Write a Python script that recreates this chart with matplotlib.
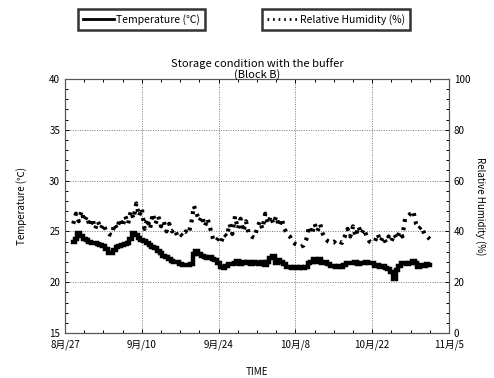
import numpy as np
import matplotlib
matplotlib.use("Agg")
import matplotlib.pyplot as plt
from matplotlib.lines import Line2D

plt.rcParams['font.family'] = ['Noto Sans CJK JP', 'DejaVu Sans']

# ---- data (days since 8/27, sampled every half day from day 1.5) ----
start_day = 1.5
step_day = 0.5
temperature = [
    24.0, 24.3, 24.8, 24.5, 24.3, 24.2, 24.0, 23.9, 23.9, 23.8,
    23.7, 23.6, 23.3, 22.9, 22.9, 23.2, 23.5, 23.6, 23.7, 23.8,
    23.9, 24.3, 24.8, 24.6, 24.4, 24.2, 24.1, 23.9, 23.7, 23.5,
    23.4, 23.1, 22.9, 22.6, 22.5, 22.3, 22.1, 22.0, 22.0, 21.8,
    21.7, 21.7, 21.7, 21.8, 22.8, 23.1, 22.8, 22.6, 22.5, 22.4,
    22.5, 22.3, 22.2, 21.9, 21.5, 21.4, 21.6, 21.8, 21.8, 21.9,
    22.1, 21.8, 22.0, 21.9, 22.0, 21.8, 22.0, 21.9, 21.8, 22.0,
    21.7, 22.0, 22.4, 22.6, 21.9, 22.2, 22.0, 21.8, 21.5, 21.5,
    21.4, 21.5, 21.4, 21.5, 21.4, 21.5, 21.9, 22.0, 22.3, 22.0,
    22.3, 21.9, 22.0, 21.8, 21.6, 21.6, 21.5, 21.6, 21.5, 21.7,
    21.9, 21.9, 21.9, 22.0, 21.8, 21.9, 21.9, 22.0, 21.9, 21.9,
    21.6, 21.7, 21.5, 21.6, 21.4, 21.3, 21.0, 20.3, 21.2, 21.6,
    21.9, 21.9, 21.8, 21.9, 22.1, 21.9, 21.5, 21.7, 21.6, 21.8,
    21.7,
]
humidity = [
    43, 47, 44, 48, 44, 46, 42, 45, 41, 44,
    41, 43, 40, 39, 38.5, 43, 41, 45, 42, 46,
    43, 48, 45, 51, 46, 49, 41, 45, 41, 47,
    43, 46, 42, 44, 40, 43, 40, 41, 38, 39,
    38, 40, 39, 43, 50, 47, 44, 46, 42, 45,
    41, 37, 36, 37.5, 36, 39, 38, 43, 39, 46,
    41, 45, 40, 44, 39, 38, 37.5, 41, 44, 41,
    47, 43, 46, 43, 46, 42, 45, 41, 39, 38,
    36, 35, 34.5, 34, 34.5, 37, 42, 39, 43, 40,
    43, 39, 37, 36, 35.5, 36, 35, 36, 35.5, 38,
    41, 38, 42, 38, 42, 39, 41, 38, 36, 35.5,
    36, 39, 36, 38, 35.5, 38, 36, 39, 37, 40,
    38, 45, 46, 47, 48, 43, 41, 42, 39, 38,
    37,
]
tick_days = [0, 14, 28, 42, 56, 70]
tick_labels = ['8月/27', '9月/10', '9月/24', '10月/8', '10月/22', '11月/5']

days = start_day + step_day * np.arange(len(temperature))

fig = plt.figure(figsize=(4.94, 3.78), dpi=100)
ax = fig.add_axes([0.1316, 0.119, 0.7773, 0.672])
ax2 = ax.twinx()

ax.plot(days, temperature, color='black', lw=3.2, drawstyle='steps-mid',
        solid_joinstyle='miter', zorder=3)
ax2.plot(days, humidity, color='black', lw=3.0, linestyle=(0, (0.7, 1.3)),
         dash_capstyle='butt', zorder=3)

ax.set_xlim(0, 70)
ax.set_ylim(15, 40)
ax2.set_ylim(0, 100)

ax.set_xticks(tick_days)
ax.set_xticklabels(tick_labels)
ax.set_xticks(np.arange(0, 70.01, 3.5), minor=True)
ax.set_yticks([15, 20, 25, 30, 35, 40])
ax.set_yticks(np.arange(15, 40.01, 1), minor=True)
ax2.set_yticks([0, 20, 40, 60, 80, 100])
ax2.set_yticks(np.arange(0, 100.01, 4), minor=True)

for a in (ax, ax2):
    a.tick_params(which='both', direction='in', labelsize=7, colors='black')
    a.tick_params(which='major', length=3, width=0.7)
    a.tick_params(which='minor', length=2.5, width=0.7)
    for s in a.spines.values():
        s.set_linewidth(0.8)
        s.set_color('#555555')
ax.tick_params(which='both', top=True, right=False)
ax.tick_params(axis='x', pad=5)
ax2.tick_params(which='both', right=True, left=False)

ax.grid(True, which='major', axis='both', linestyle=(0, (1, 1.5)), color='#777777', lw=0.7)

ax.set_xlabel('TIME', fontsize=7, labelpad=12)
ax.set_ylabel('Temperature (℃)', fontsize=7, labelpad=16)
ax2.set_ylabel('Relative Humidity (%)', fontsize=7, rotation=270, labelpad=11)

fig.text(0.52, 0.822, 'Storage condition with the buffer', ha='center', fontsize=8)
fig.text(0.52, 0.793, '(Block B)', ha='center', fontsize=8)

h1 = [Line2D([0], [0], color='black', lw=2)]
h2 = [Line2D([0], [0], color='black', lw=2, linestyle=(0, (0.6, 1.4)))]
for handles, label, x in ((h1, 'Temperature (℃)', 0.158), (h2, 'Relative Humidity (%)', 0.53)):
    leg = fig.legend(handles, [label], loc='upper left', bbox_to_anchor=(x, 0.975),
                     fontsize=7.5, frameon=True, fancybox=False, shadow=False,
                     handlelength=3.0, handletextpad=0.2, borderpad=0.45,
                     borderaxespad=0)
    fr = leg.get_frame()
    fr.set_edgecolor('black')
    fr.set_linewidth(1.8)

fig.savefig('out.png', dpi=100)
